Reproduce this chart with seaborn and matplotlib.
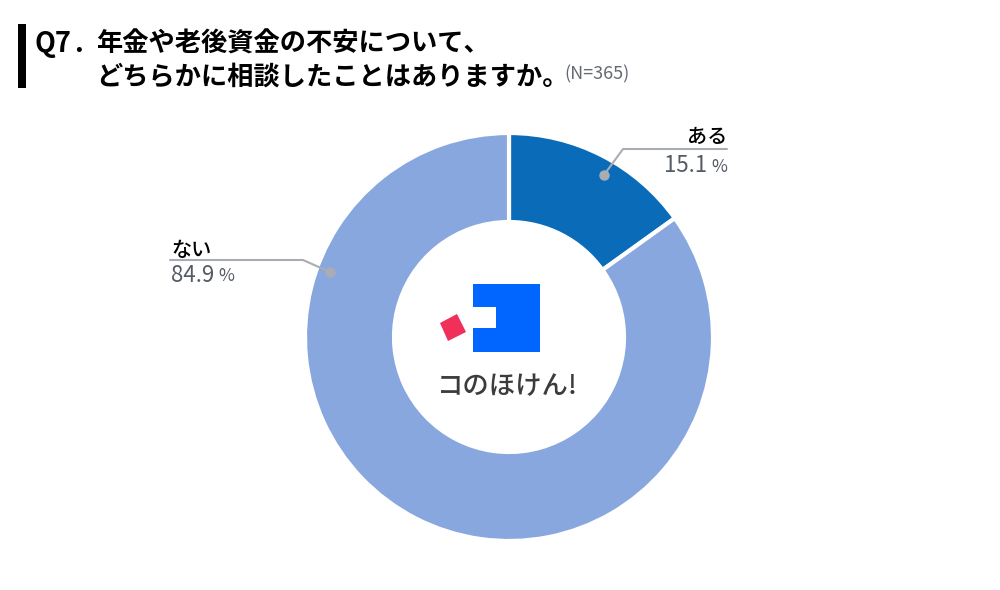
import seaborn as sns
import matplotlib.pyplot as plt
from matplotlib.patches import Polygon, Rectangle

labels = ['ある', 'ない']
values = [15.1, 84.9]
value_labels = ['15.1', '84.9']
colors = ['#0a6cb9', '#88a7de']

title_q = 'Q7'
title_1 = '年金や老後資金の不安について、'
title_2 = 'どちらかに相談したことはありますか。'
n_text = '(N=365)'
logo_text = 'コのほけん!'

sns.set_theme(style='white')
plt.rcParams['font.family'] = ['Noto Sans CJK JP', 'DejaVu Sans']

W, H = 1000, 590


# picture y runs downwards, the axes upwards
def py(y):
    return H - y


fig = plt.figure(figsize=(10, 5.9), dpi=100)
ax = fig.add_axes([0, 0, 1, 1])

# donut
ax.pie(values, colors=sns.color_palette(colors), startangle=90, counterclock=False,
       center=(509, py(337)), radius=204, frame=True,
       wedgeprops=dict(width=89, edgecolor='white', linewidth=3))
ax.set_xlim(0, W)
ax.set_ylim(0, H)
ax.set_aspect('equal')
ax.axis('off')

# title
ax.add_patch(Rectangle((18, py(88)), 8, 64, color='black', lw=0))
ax.text(34, py(44), title_q, fontsize=19.5, fontweight='bold', color='black', va='center', ha='left')
ax.text(74, py(44), '.', fontsize=19.5, fontweight='bold', color='black', va='center', ha='left')
ax.text(96, py(44), title_1, fontsize=18.9, fontweight='bold', color='black', va='center', ha='left')
ax.text(96, py(77), title_2, fontsize=18.9, fontweight='bold', color='black', va='center', ha='left')
ax.text(564, py(74), n_text, fontsize=13, color='#666b73', va='center', ha='left')

# callouts
line_color = '#a9adb3'
text_gray = '#555b64'
ax.plot([727, 623, 604], [py(149), py(149), py(175)], color=line_color, lw=1.5, zorder=5)
ax.plot([604], [py(175)], 'o', color=line_color, ms=6.5, zorder=6)
ax.text(727, py(137), labels[0], fontsize=14.5, fontweight='medium', color='black', va='center', ha='right')
ax.text(707, py(166), value_labels[0], fontsize=16, color=text_gray, va='center', ha='right')
ax.text(727, py(167), '%', fontsize=12.5, color=text_gray, va='center', ha='right')

ax.plot([170, 303, 330], [py(260), py(260), py(272)], color=line_color, lw=1.5, zorder=5)
ax.plot([330], [py(272)], 'o', color=line_color, ms=6.5, zorder=6)
ax.text(171, py(250), labels[1], fontsize=14.5, fontweight='medium', color='black', va='center', ha='left')
ax.text(171, py(275), value_labels[1], fontsize=16, color=text_gray, va='center', ha='left')
ax.text(218, py(276), '%', fontsize=12.5, color=text_gray, va='center', ha='left')

# logo in the hole
logo_blue = [(473, 284), (540, 284), (540, 352), (473, 352), (473, 328),
             (496, 328), (496, 307), (473, 307)]
ax.add_patch(Polygon([(x, py(y)) for x, y in logo_blue], closed=True, color='#0066ff', lw=0))
logo_red = [(440, 323), (457, 314), (466, 332), (448, 341)]
ax.add_patch(Polygon([(x, py(y)) for x, y in logo_red], closed=True, color='#f03058', lw=0))
ax.text(507, py(387), logo_text, fontsize=19, fontweight='medium', color='#3c3c3c', va='center', ha='center')

fig.savefig('out.png', dpi=100, facecolor='white')
